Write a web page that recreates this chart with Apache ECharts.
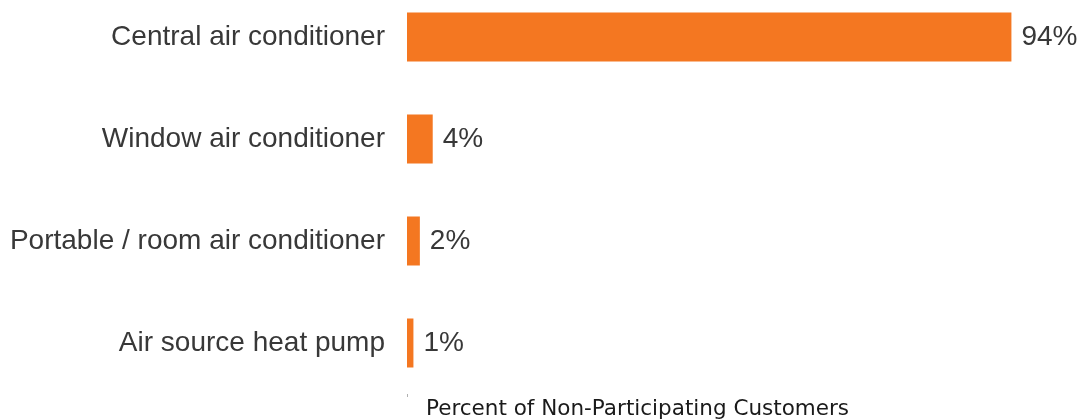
<!DOCTYPE html>
<html>
<head>
<meta charset="utf-8">
<title>Cooling equipment</title>
<script src="https://cdn.jsdelivr.net/npm/echarts@6/dist/echarts.min.js"></script>
<style>
  html, body { margin: 0; padding: 0; background: #ffffff; }
  #chart { width: 1080px; height: 419px; }
</style>
</head>
<body>
<div id="chart"></div>
<script>
// Equipment types, listed top to bottom
const categories = [
  'Central air conditioner',
  'Window air conditioner',
  'Portable / room air conditioner',
  'Air source heat pump'
];
// Share of respondents (%)
const shares = [94, 4, 2, 1];
const axisTitle = 'Percent of Non-Participating Customers';

const chart = echarts.init(document.getElementById('chart'), null, { renderer: 'canvas' });

const labelFont = '"Liberation Sans", Arial, Helvetica, sans-serif';

chart.setOption({
  animation: false,
  backgroundColor: '#ffffff',
  grid: {
    left: 407,
    right: 30,
    top: -14,
    bottom: 25,
    containLabel: false,
    outerBoundsMode: 'none'
  },
  xAxis: {
    type: 'value',
    min: 0,
    max: 100,
    splitLine: { show: false },
    axisLine: { show: false },
    axisLabel: { show: false },
    axisTick: {
      show: true,
      customValues: [0],
      length: 3,
      lineStyle: { color: '#b0b0b0', width: 1 }
    },
    name: axisTitle,
    nameLocation: 'middle',
    nameGap: 4,
    nameTextStyle: {
      fontFamily: '"DejaVu Sans", Verdana, sans-serif',
      fontSize: 21.5,
      color: '#1a1a1a',
      padding: [0, 182, 0, 0]
    }
  },
  yAxis: {
    type: 'category',
    data: categories,
    inverse: true,
    axisLine: { show: false },
    axisTick: { show: false },
    splitLine: { show: false },
    axisLabel: {
      margin: 22,
      fontFamily: labelFont,
      fontSize: 28,
      color: '#383838'
    }
  },
  series: [{
    type: 'bar',
    data: shares,
    barWidth: 49,
    itemStyle: { color: '#F47721' },
    label: {
      show: true,
      position: 'right',
      distance: 10,
      formatter: (p) => p.value + '%',
      fontFamily: labelFont,
      fontSize: 28,
      color: '#383838'
    }
  }]
});
</script>
</body>
</html>
